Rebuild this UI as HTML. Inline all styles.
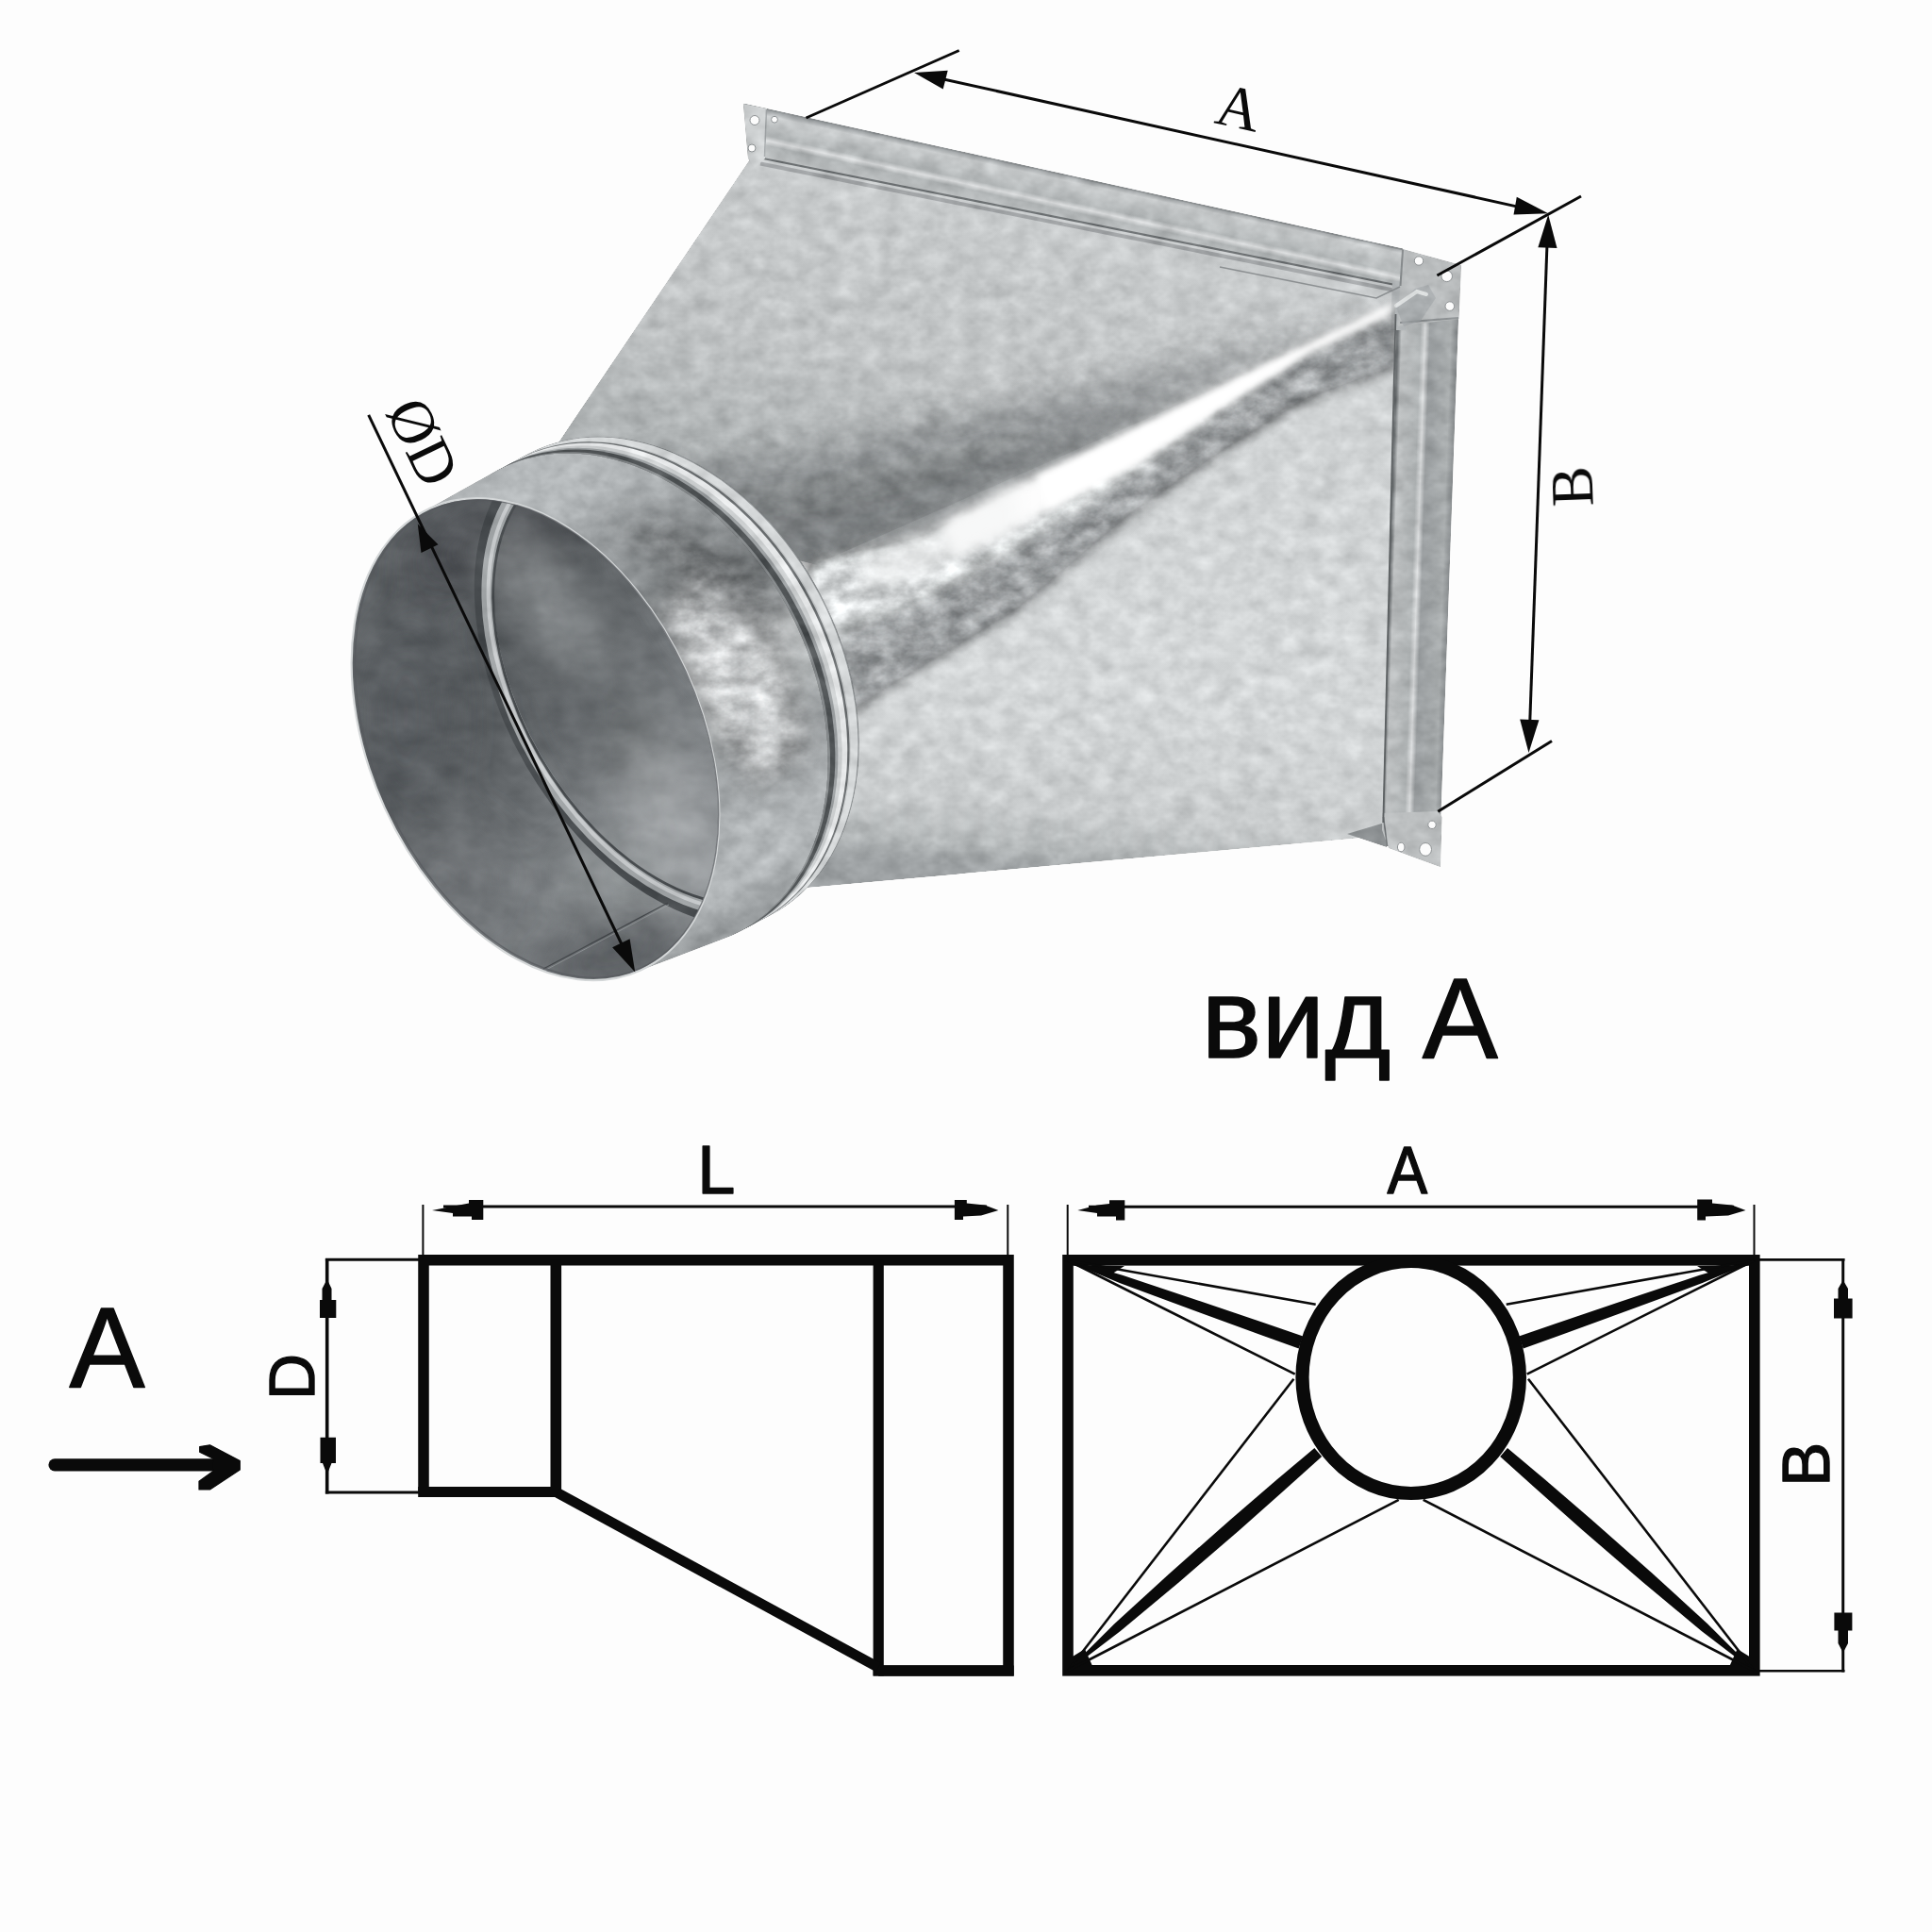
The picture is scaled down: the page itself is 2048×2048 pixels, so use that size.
<!DOCTYPE html>
<html lang="ru">
<head>
<meta charset="utf-8">
<title>Переход с прямоугольного на круглое сечение</title>
<style>
  html, body { margin: 0; padding: 0; background: #fdfdfd; }
  body { width: 2048px; height: 2048px; overflow: hidden; font-family: "Liberation Sans", sans-serif; }
  svg { display: block; position: absolute; left: 0; top: 0; }
  .sans { font-family: "Liberation Sans", sans-serif; fill: #0a0a0a; stroke: #0a0a0a; stroke-width: 1.4px; stroke-linejoin: round; }
  .serif { font-family: "Liberation Serif", serif; fill: #0a0a0a; }
</style>
</head>
<body>
<svg width="2048" height="2048" viewBox="0 0 2048 2048">
  <rect x="0" y="0" width="2048" height="2048" fill="#fdfdfd"/>

  <defs>
    <!-- galvanized spangle texture -->
    <filter id="galv" x="330" y="80" width="1260" height="1000" filterUnits="userSpaceOnUse" color-interpolation-filters="sRGB">
      <feTurbulence type="fractalNoise" baseFrequency="0.045 0.06" numOctaves="3" seed="7" result="n"/>
      <feColorMatrix in="n" type="matrix" values="0.6 0.6 0 0 -0.1  0.6 0.6 0 0 -0.1  0.6 0.6 0 0 -0.1  0 0 0 0 1" result="g"/>
      <feComposite in="SourceGraphic" in2="g" operator="arithmetic" k1="0" k2="1" k3="0.22" k4="-0.11" result="c"/>
      <feComposite in="c" in2="SourceGraphic" operator="in"/>
    </filter>
    <filter id="galvSoft" x="330" y="80" width="1260" height="1000" filterUnits="userSpaceOnUse" color-interpolation-filters="sRGB">
      <feTurbulence type="fractalNoise" baseFrequency="0.03 0.045" numOctaves="3" seed="23" result="n"/>
      <feColorMatrix in="n" type="matrix" values="0.6 0.6 0 0 -0.1  0.6 0.6 0 0 -0.1  0.6 0.6 0 0 -0.1  0 0 0 0 1" result="g"/>
      <feComposite in="SourceGraphic" in2="g" operator="arithmetic" k1="0" k2="1" k3="0.13" k4="-0.065" result="c"/>
      <feComposite in="c" in2="SourceGraphic" operator="in"/>
    </filter>
    <filter id="galvStrong" x="330" y="80" width="1260" height="1000" filterUnits="userSpaceOnUse" color-interpolation-filters="sRGB">
      <feTurbulence type="fractalNoise" baseFrequency="0.04 0.055" numOctaves="4" seed="11" result="n"/>
      <feColorMatrix in="n" type="matrix" values="0.6 0.6 0 0 -0.1  0.6 0.6 0 0 -0.1  0.6 0.6 0 0 -0.1  0 0 0 0 1" result="g"/>
      <feComposite in="SourceGraphic" in2="g" operator="arithmetic" k1="0" k2="1" k3="0.6" k4="-0.30" result="c"/>
      <feComposite in="c" in2="SourceGraphic" operator="in"/>
    </filter>
    <filter id="b3" x="-20%" y="-20%" width="140%" height="140%"><feGaussianBlur stdDeviation="3"/></filter>
    <filter id="b6" x="-20%" y="-20%" width="140%" height="140%"><feGaussianBlur stdDeviation="6"/></filter>
    <filter id="b10" x="-20%" y="-20%" width="140%" height="140%"><feGaussianBlur stdDeviation="10"/></filter>
    <filter id="b16" x="-30%" y="-30%" width="160%" height="160%"><feGaussianBlur stdDeviation="16"/></filter>
    <filter id="b26" x="-30%" y="-30%" width="160%" height="160%"><feGaussianBlur stdDeviation="26"/></filter>

    <linearGradient id="gTopFace" gradientUnits="userSpaceOnUse" x1="1000" y1="200" x2="900" y2="620">
      <stop offset="0" stop-color="#c9cccd"/>
      <stop offset="0.45" stop-color="#c1c4c5"/>
      <stop offset="0.75" stop-color="#afb3b4"/>
      <stop offset="1" stop-color="#9b9fa1"/>
    </linearGradient>
    <linearGradient id="gSideFace" gradientUnits="userSpaceOnUse" x1="1200" y1="450" x2="1160" y2="930">
      <stop offset="0" stop-color="#d0d3d4"/>
      <stop offset="0.6" stop-color="#d4d7d8"/>
      <stop offset="0.86" stop-color="#c9cccd"/>
      <stop offset="0.95" stop-color="#b3b7b8"/>
      <stop offset="1" stop-color="#9da1a3"/>
    </linearGradient>
    <linearGradient id="gFlangeTop" gradientUnits="userSpaceOnUse" x1="1100" y1="180" x2="1087" y2="240">
      <stop offset="0" stop-color="#9da1a3"/>
      <stop offset="0.08" stop-color="#c7cacb"/>
      <stop offset="0.42" stop-color="#b4b8b9"/>
      <stop offset="0.5" stop-color="#d9dbdc"/>
      <stop offset="0.58" stop-color="#aeb2b3"/>
      <stop offset="0.9" stop-color="#bec1c2"/>
      <stop offset="1" stop-color="#85898b"/>
    </linearGradient>
    <linearGradient id="gFlangeRight" gradientUnits="userSpaceOnUse" x1="1474" y1="600" x2="1536" y2="602">
      <stop offset="0" stop-color="#6f7375"/>
      <stop offset="0.06" stop-color="#b9bcbd"/>
      <stop offset="0.38" stop-color="#aeb2b3"/>
      <stop offset="0.46" stop-color="#d4d6d7"/>
      <stop offset="0.54" stop-color="#9a9ea0"/>
      <stop offset="0.9" stop-color="#a9adae"/>
      <stop offset="1" stop-color="#8c9092"/>
    </linearGradient>


    <linearGradient id="gPipeOuter" gradientUnits="userSpaceOnUse" x1="499" y1="518" x2="753" y2="994">
      <stop offset="0" stop-color="#b2b6b8"/>
      <stop offset="0.08" stop-color="#b7bbbd"/>
      <stop offset="0.2" stop-color="#a1a5a7"/>
      <stop offset="0.3" stop-color="#8e9294"/>
      <stop offset="0.4" stop-color="#808486"/>
      <stop offset="0.46" stop-color="#9da1a3"/>
      <stop offset="0.52" stop-color="#c8cbcc"/>
      <stop offset="0.62" stop-color="#b6babb"/>
      <stop offset="0.72" stop-color="#a0a4a6"/>
      <stop offset="0.84" stop-color="#b1b5b7"/>
      <stop offset="0.93" stop-color="#b5b9bb"/>
      <stop offset="1" stop-color="#989c9e"/>
    </linearGradient>
    <linearGradient id="gPipeInner" gradientUnits="userSpaceOnUse" x1="400" y1="880" x2="740" y2="700">
      <stop offset="0" stop-color="#5e6265"/>
      <stop offset="0.25" stop-color="#54585b"/>
      <stop offset="0.45" stop-color="#5f6366"/>
      <stop offset="0.7" stop-color="#75797c"/>
      <stop offset="1" stop-color="#868a8d"/>
    </linearGradient>
    <linearGradient id="gBead" gradientUnits="userSpaceOnUse" x1="559" y1="472" x2="813" y2="980">
      <stop offset="0" stop-color="#c9cccd"/>
      <stop offset="0.3" stop-color="#b4b8ba"/>
      <stop offset="0.45" stop-color="#8e9294"/>
      <stop offset="0.55" stop-color="#e2e4e5"/>
      <stop offset="0.75" stop-color="#c4c7c8"/>
      <stop offset="1" stop-color="#b4b8b9"/>
    </linearGradient>
    <clipPath id="clipRim">
      <ellipse cx="567.5" cy="783.6" rx="269.1" ry="175.5" transform="rotate(65.5 567.5 783.6)" />
    </clipPath>
    <clipPath id="clipPipeHull">
      <path d="M769.2,994.3 L672.7,1031.1 L666.2,1033.4 L659.5,1035.3 L652.7,1036.8 L645.8,1038.0 L638.7,1038.7 L631.6,1039.0 L624.3,1039.0 L616.9,1038.5 L609.5,1037.7 L602.0,1036.4 L594.4,1034.8 L586.8,1032.8 L579.2,1030.4 L571.6,1027.6 L563.9,1024.5 L556.3,1021.0 L548.6,1017.1 L541.0,1012.8 L533.5,1008.2 L526.0,1003.3 L518.5,998.0 L511.2,992.4 L503.9,986.4 L496.7,980.2 L489.6,973.6 L482.7,966.7 L475.9,959.6 L469.2,952.2 L462.7,944.5 L456.3,936.6 L450.1,928.5 L444.1,920.1 L438.3,911.5 L432.6,902.8 L427.2,893.8 L422.0,884.7 L417.0,875.4 L412.3,865.9 L407.8,856.4 L403.5,846.7 L399.5,836.9 L395.8,827.1 L392.3,817.2 L389.1,807.2 L386.2,797.2 L383.5,787.2 L381.1,777.1 L379.0,767.1 L377.3,757.1 L375.8,747.2 L374.5,737.3 L373.6,727.5 L373.0,717.7 L372.7,708.1 L372.7,698.5 L373.0,689.2 L373.6,679.9 L374.5,670.8 L375.7,661.9 L377.2,653.2 L378.9,644.7 L381.0,636.4 L383.4,628.3 L386.0,620.4 L388.9,612.8 L392.1,605.5 L395.6,598.5 L399.3,591.7 L403.3,585.2 L407.5,579.1 L412.0,573.2 L416.7,567.7 L421.7,562.5 L426.9,557.6 L432.3,553.1 L437.9,549.0 L443.7,545.2 L449.7,541.8 L520.9,502.0 L527.9,498.1 L535.2,494.6 L542.6,491.5 L550.1,488.7 L557.9,486.3 L565.8,484.4 L573.8,482.8 L581.9,481.6 L590.2,480.8 L598.6,480.5 L607.0,480.5 L615.6,480.9 L624.2,481.8 L632.8,483.0 L641.5,484.7 L650.2,486.7 L658.9,489.2 L667.6,492.0 L676.3,495.2 L685.0,498.8 L693.6,502.8 L702.1,507.2 L710.6,511.9 L719.0,517.0 L727.3,522.4 L735.5,528.1 L743.6,534.2 L751.5,540.6 L759.3,547.4 L766.9,554.4 L774.4,561.7 L781.6,569.3 L788.7,577.2 L795.6,585.3 L802.2,593.6 L808.7,602.2 L814.9,611.0 L820.8,620.0 L826.5,629.2 L832.0,638.6 L837.1,648.2 L842.0,657.8 L846.6,667.7 L850.9,677.6 L854.9,687.6 L858.6,697.7 L862.0,707.9 L865.1,718.2 L867.8,728.4 L870.2,738.7 L872.3,749.0 L874.1,759.3 L875.5,769.6 L876.5,779.8 L877.3,790.0 L877.7,800.1 L877.7,810.1 L877.4,820.0 L876.8,829.8 L875.8,839.5 L874.5,849.0 L872.9,858.3 L870.9,867.5 L868.6,876.5 L865.9,885.2 L863.0,893.8 L859.7,902.1 L856.1,910.2 L852.2,918.0 L848.0,925.5 L843.5,932.8 L838.7,939.7 L833.6,946.4 L828.3,952.8 L822.6,958.8 L816.8,964.5 L810.6,969.8 L804.3,974.8 L797.7,979.5 L790.9,983.8 L783.9,987.7 L776.6,991.2 Z"/>
    </clipPath>
    <clipPath id="clipBody">
      <path d="M798,160 L1484,296 L1479,330 L1466,886 L856,941 L700,980 L560,520 L594,466 L795,169 Z"/>
    </clipPath>
  </defs>

  <!-- ===================== PHOTO: duct adapter ===================== -->
  <g id="photo">
    <g filter="url(#galv)">
      <!-- body -->
      <g clip-path="url(#clipBody)">
        <path d="M795,160 L1484,296 L1479,330 L870,600 L560,520 L594,466 Z" fill="url(#gTopFace)"/>
        <path d="M1479,328 L1466,886 L856,941 L700,980 L870,596 Z" fill="url(#gSideFace)"/>
      </g>
      <!-- top flange strip -->
      <path d="M788,110 L1487,264 L1484,303 L809,168 L793,167 Z" fill="url(#gFlangeTop)"/>
      <path d="M809,168 L1484,303" stroke="#6a6e70" stroke-width="2.2" fill="none"/>
      <path d="M806,173.5 L1482,308.5" stroke="#8e9294" stroke-width="4" fill="none" opacity="0.7"/>
      <path d="M788.6,110.6 L1487,264.4" stroke="#8b8f91" stroke-width="1.6" fill="none"/>
      <!-- top-left bracket -->
      <path d="M788,110 L813,115 L811,168 L800,178 L793,168 Z" fill="#cccfd0"/>
      <path d="M812.5,116 L810.5,166" stroke="#9da1a3" stroke-width="1.5" fill="none"/>
      <!-- right flange strip -->
      <path d="M1480,340 L1546,338 L1527,876 L1466,866 Z" fill="url(#gFlangeRight)"/>
      <!-- corner filler -->
      <path d="M1476,298 L1492,300 L1490,350 L1474,350 Z" fill="#b3b7b9"/>
      <!-- top-right corner bracket -->
      <path d="M1487,264 L1549,281 L1546.5,338 L1482,346 L1484,303 Z" fill="#b9bcbd"/>
      <path d="M1487,265 L1484.5,303" stroke="#85898b" stroke-width="2" fill="none"/>
      <path d="M1484,342 L1546,337" stroke="#8b8f91" stroke-width="2" fill="none"/>
      <path d="M1480,326 L1500,306 L1514,302 L1522,316 L1506,340 L1488,346 Z" fill="#a3a7a9" opacity="0.7"/>
      <path d="M1480,324 L1502,309 L1512,312" stroke="#e6e8e9" stroke-width="4" fill="none" stroke-linecap="round" opacity="0.8"/>
      <!-- bottom-right bracket -->
      <path d="M1428,884 L1470,898 L1468,872 Z" fill="#8a8e90"/>
      <path d="M1465,862 L1524,860 L1528.5,866 L1527,919 L1472,899 L1465,880 Z" fill="#bcbfc0"/>
      <path d="M1466.5,866 L1470.5,897" stroke="#6f7375" stroke-width="1.6" fill="none"/>
    </g>

    <!-- conical transition: shadow / highlight / mottled band -->
    <g clip-path="url(#clipBody)">
      <g filter="url(#galv)">
        <g filter="url(#b16)">
          <path d="M1478,324 L1386,345 L1200,392 L1076,420 L843,472 L600,500 L600,640 L870,600 L975,566 L1200,455 L1386,364 Z" fill="#8d9193" opacity="0.72"/>
        </g>
        <g filter="url(#b10)">
          <path d="M1260,420 L1076,470 L860,520 L700,536 L860,600 L975,566 L1200,455 Z" fill="#7d8183" opacity="0.55"/>
        </g>
      </g>
      <g filter="url(#galvStrong)">
        <g filter="url(#b6)">
          <path d="M1481,330 L1481,392 L1386,426 L1293,484 L1200,548 L1079,650 L949,728 L840,800 L840,690 L936,650 L1027,610 L1200,500 L1293,436 L1386,374 Z" fill="#a6aaac" opacity="0.9"/>
        </g>
        <g filter="url(#b6)">
          <path d="M1481,322 L1386,364 L1200,455 L975,566 L859,592 L840,640 L840,712 L900,672 L975,642 L1079,584 L1200,506 L1293,438 L1386,377 L1470,334 Z" fill="#d2d5d6"/>
        </g>
      </g>
      <g filter="url(#b6)">
        <path d="M1479,322 L1386,366 L1200,458 L1079,514 L1000,556 L1010,590 L1079,558 L1200,492 L1293,430 L1386,372 L1468,334 Z" fill="#fdfdfd"/>
      </g>
      <g filter="url(#b3)">
        <path d="M1479,321 L1386,365 L1200,457 L1100,505 L1110,540 L1200,494 L1293,432 L1386,374 L1470,333 Z" fill="#ffffff"/>
      </g>
      <g filter="url(#b10)">
        <path d="M1079,516 L975,570 L915,592 L915,624 L975,612 L1079,556 Z" fill="#f4f5f5" opacity="0.7"/>
      </g>
    </g>
    <!-- edge lines -->
    <path d="M1479.5,333 L1466.3,872" stroke="#5d6163" stroke-width="1.8" fill="none"/>
    <path d="M1293,283 L1459,316 L1484,304" stroke="#7d8183" stroke-width="1.6" fill="none" opacity="0.8"/>

    <!-- round collar and pipe -->
    <g id="pipe">
      <!-- collar / bead rings (series of axially shifted ellipses) -->
      <g filter="url(#galv)">
        <ellipse cx="688.9" cy="725.3" rx="276.2" ry="204.5" transform="rotate(62.4 688.9 725.3)" fill="#8e9294"/>
        <ellipse cx="687.6" cy="726.0" rx="276.2" ry="204.5" transform="rotate(62.4 687.6 726.0)" fill="#d6d9da"/>
        <ellipse cx="680.0" cy="730.1" rx="276.2" ry="204.5" transform="rotate(62.4 680.0 730.1)" fill="#c6c9ca"/>
        <ellipse cx="678.7" cy="730.8" rx="276.2" ry="204.5" transform="rotate(62.4 678.7 730.8)" fill="#6a6e70"/>
        <ellipse cx="676.4" cy="732.0" rx="276.2" ry="204.5" transform="rotate(62.4 676.4 732.0)" fill="#e6e8e9"/>
        <ellipse cx="670.8" cy="735.0" rx="276.2" ry="204.5" transform="rotate(62.4 670.8 735.0)" fill="#cbcecf"/>
        <ellipse cx="666.5" cy="737.3" rx="276.2" ry="204.5" transform="rotate(62.4 666.5 737.3)" fill="#9a9ea0"/>
        <ellipse cx="663.5" cy="738.9" rx="276.2" ry="204.5" transform="rotate(62.4 663.5 738.9)" fill="#4f5355"/>
        <ellipse cx="658.2" cy="741.7" rx="276.2" ry="204.5" transform="rotate(62.4 658.2 741.7)" fill="#85898b"/>
      </g>
      <!-- pipe outer surface -->
      <g filter="url(#galv)">
        <path d="M769.2,994.3 L672.7,1031.1 L666.2,1033.4 L659.5,1035.3 L652.7,1036.8 L645.8,1038.0 L638.7,1038.7 L631.6,1039.0 L624.3,1039.0 L616.9,1038.5 L609.5,1037.7 L602.0,1036.4 L594.4,1034.8 L586.8,1032.8 L579.2,1030.4 L571.6,1027.6 L563.9,1024.5 L556.3,1021.0 L548.6,1017.1 L541.0,1012.8 L533.5,1008.2 L526.0,1003.3 L518.5,998.0 L511.2,992.4 L503.9,986.4 L496.7,980.2 L489.6,973.6 L482.7,966.7 L475.9,959.6 L469.2,952.2 L462.7,944.5 L456.3,936.6 L450.1,928.5 L444.1,920.1 L438.3,911.5 L432.6,902.8 L427.2,893.8 L422.0,884.7 L417.0,875.4 L412.3,865.9 L407.8,856.4 L403.5,846.7 L399.5,836.9 L395.8,827.1 L392.3,817.2 L389.1,807.2 L386.2,797.2 L383.5,787.2 L381.1,777.1 L379.0,767.1 L377.3,757.1 L375.8,747.2 L374.5,737.3 L373.6,727.5 L373.0,717.7 L372.7,708.1 L372.7,698.5 L373.0,689.2 L373.6,679.9 L374.5,670.8 L375.7,661.9 L377.2,653.2 L378.9,644.7 L381.0,636.4 L383.4,628.3 L386.0,620.4 L388.9,612.8 L392.1,605.5 L395.6,598.5 L399.3,591.7 L403.3,585.2 L407.5,579.1 L412.0,573.2 L416.7,567.7 L421.7,562.5 L426.9,557.6 L432.3,553.1 L437.9,549.0 L443.7,545.2 L449.7,541.8 L520.9,502.0 L527.9,498.1 L535.2,494.6 L542.6,491.5 L550.1,488.7 L557.9,486.3 L565.8,484.4 L573.8,482.8 L581.9,481.6 L590.2,480.8 L598.6,480.5 L607.0,480.5 L615.6,480.9 L624.2,481.8 L632.8,483.0 L641.5,484.7 L650.2,486.7 L658.9,489.2 L667.6,492.0 L676.3,495.2 L685.0,498.8 L693.6,502.8 L702.1,507.2 L710.6,511.9 L719.0,517.0 L727.3,522.4 L735.5,528.1 L743.6,534.2 L751.5,540.6 L759.3,547.4 L766.9,554.4 L774.4,561.7 L781.6,569.3 L788.7,577.2 L795.6,585.3 L802.2,593.6 L808.7,602.2 L814.9,611.0 L820.8,620.0 L826.5,629.2 L832.0,638.6 L837.1,648.2 L842.0,657.8 L846.6,667.7 L850.9,677.6 L854.9,687.6 L858.6,697.7 L862.0,707.9 L865.1,718.2 L867.8,728.4 L870.2,738.7 L872.3,749.0 L874.1,759.3 L875.5,769.6 L876.5,779.8 L877.3,790.0 L877.7,800.1 L877.7,810.1 L877.4,820.0 L876.8,829.8 L875.8,839.5 L874.5,849.0 L872.9,858.3 L870.9,867.5 L868.6,876.5 L865.9,885.2 L863.0,893.8 L859.7,902.1 L856.1,910.2 L852.2,918.0 L848.0,925.5 L843.5,932.8 L838.7,939.7 L833.6,946.4 L828.3,952.8 L822.6,958.8 L816.8,964.5 L810.6,969.8 L804.3,974.8 L797.7,979.5 L790.9,983.8 L783.9,987.7 L776.6,991.2 Z" fill="url(#gPipeOuter)"/>
      </g>
      <!-- mottled highlight on pipe -->
      <g clip-path="url(#clipPipeHull)">
        <g filter="url(#galvStrong)">
          <g filter="url(#b16)">
            <path d="M690,650 L735,606 L838,690 L862,800 L800,840 L740,760 Z" fill="#e2e4e5" opacity="0.9"/>
            <path d="M640,560 L700,545 L820,605 L850,675 L790,655 L725,610 Z" fill="#808486" opacity="0.6"/>
          </g>
        </g>
      </g>
      <!-- pipe interior -->
      <g clip-path="url(#clipRim)"><g filter="url(#galvSoft)">
        <ellipse cx="567.5" cy="783.6" rx="269.1" ry="175.5" transform="rotate(65.5 567.5 783.6)" fill="url(#gPipeInner)"/>
        <g filter="url(#b26)">
          <ellipse cx="520" cy="575" rx="100" ry="45" transform="rotate(-20 520 575)" fill="#45494c" opacity="0.9"/>
          <ellipse cx="430" cy="760" rx="45" ry="110" fill="#5a5e61" opacity="0.8"/>
          <ellipse cx="705" cy="850" rx="40" ry="120" transform="rotate(-25 705 850)" fill="#a4a8aa" opacity="0.95"/>
          <ellipse cx="590" cy="650" rx="28" ry="110" transform="rotate(-38 590 650)" fill="#9a9ea0" opacity="0.85"/>
          <ellipse cx="650" cy="760" rx="40" ry="70" transform="rotate(-30 650 760)" fill="#5c6063" opacity="0.75"/>
          <ellipse cx="650" cy="1015" rx="90" ry="38" transform="rotate(-15 650 1015)" fill="#55595c" opacity="0.95"/>
          <ellipse cx="650" cy="925" rx="55" ry="35" fill="#94989a" opacity="0.7"/>
          <ellipse cx="470" cy="930" rx="60" ry="60" fill="#74787b" opacity="0.7"/>
        </g>
        <!-- inner bead ring seen from inside -->
        <ellipse cx="716.4" cy="719.4" rx="279.3" ry="178.2" transform="rotate(60.0 716.4 719.4)" fill="none" stroke="#484c4f" stroke-width="11"/>
        <ellipse cx="716.4" cy="719.4" rx="267.3" ry="171.0" transform="rotate(60.0 716.4 719.4)" fill="none" stroke="#a0a4a6" stroke-width="13"/>
        <ellipse cx="716.4" cy="719.4" rx="266.3" ry="170.4" transform="rotate(60.0 716.4 719.4)" fill="none" stroke="#c6c9cb" stroke-width="4"/>
        <ellipse cx="716.4" cy="719.4" rx="259.3" ry="166.2" transform="rotate(60.0 716.4 719.4)" fill="none" stroke="#484c4f" stroke-width="2.8"/>
        <!-- weld seam -->
        <path d="M576,1027 L708,957" stroke="#3c4043" stroke-width="1.3" fill="none" opacity="0.85"/>
        <path d="M577,1029 L709,959" stroke="#9da1a3" stroke-width="1" fill="none" opacity="0.6"/>
      </g></g>
      <!-- rim edge -->
      <ellipse cx="567.5" cy="783.6" rx="269.1" ry="175.5" transform="rotate(65.5 567.5 783.6)" fill="none" stroke="#d4d7d8" stroke-width="2.2"/>
      <ellipse cx="569.0" cy="783.1" rx="266.9" ry="173.3" transform="rotate(65.5 569.0 783.1)" fill="none" stroke="#56595c" stroke-width="1.4" opacity="0.7"/>
    </g>

    <!-- mounting holes -->
    <g fill="#fcfcfc" stroke="#8d9193" stroke-width="1">
      <circle cx="800" cy="127.5" r="5"/>
      <circle cx="821" cy="126.7" r="3.4"/>
      <circle cx="797" cy="157" r="4"/>
      <circle cx="1504" cy="276.5" r="4.7"/>
      <circle cx="1533.7" cy="292.8" r="5.8"/>
      <circle cx="1536.8" cy="324.6" r="4.8"/>
      <circle cx="1518" cy="874.3" r="4.2"/>
      <ellipse cx="1485.2" cy="898" rx="3.8" ry="4.8"/>
      <ellipse cx="1511.1" cy="900.4" rx="6.4" ry="6.9"/>
    </g>
  </g>

  <!-- ===================== dimensions on photo ===================== -->
  <g id="photo-dims" stroke="#0a0a0a" fill="#0a0a0a" stroke-width="3" stroke-linecap="butt">
    <!-- A -->
    <path d="M854.5,125 L1016.7,53.5" fill="none"/>
    <path d="M1523.4,292 L1676,208" fill="none"/>
    <path d="M990,81.7 L1620,221.6" fill="none"/>
    <path d="M969,77 L1004.7,74.8 L999.7,94.4 Z" stroke="none"/>
    <path d="M1641.2,226.3 L1607.8,208.7 L1604.5,227.6 Z" stroke="none"/>
    <!-- B -->
    <path d="M1524.3,860.2 L1645,785.5" fill="none"/>
    <path d="M1640.3,250 L1621.4,775" fill="none"/>
    <path d="M1641.2,227.5 L1650.5,263 L1630.4,262.3 Z" stroke="none"/>
    <path d="M1620.5,798 L1611.2,762.5 L1631.4,763.2 Z" stroke="none"/>
    <!-- diameter D -->
    <path d="M390.7,439.8 L665,1013.5" fill="none"/>
    <path d="M442.8,555.5 L446.5,586.0 L464.5,577.2 Z" stroke="none"/>
    <path d="M673.2,1030.4 L649.1,1004.3 L667.6,995.3 Z" stroke="none"/>
  </g>
  <text class="serif" x="0" y="0" font-size="64" text-anchor="middle" transform="translate(1308.5,135) rotate(12.5)">A</text>
  <text class="serif" x="0" y="0" font-size="64" text-anchor="middle" transform="translate(1688,515) rotate(-92)">B</text>
  <text class="serif" x="0" y="0" font-size="65" text-anchor="middle" transform="translate(429,478) rotate(64.2)">ØD</text>

  <!-- ===================== LOWER LINE DRAWINGS ===================== -->
  <g id="drawings" stroke="#0a0a0a" fill="none" stroke-linecap="butt" stroke-linejoin="miter">

    <!-- ============ side view ============ -->
    <g id="side-view">
      <!-- main outline -->
      <path d="M449,1581.4 L449,1335.7 L1069,1335.7 L1069,1771 L931.2,1771" stroke-width="11.5"/>
      <path d="M443.2,1581.4 L595,1581.4" stroke-width="11"/>
      <path d="M589.3,1335.7 L589.3,1586.8" stroke-width="11.6"/>
      <path d="M931.2,1335.7 L931.2,1776.5" stroke-width="11.2"/>
      <path d="M925.6,1771 L1074.7,1771" stroke-width="11"/>
      <path d="M591,1582.5 L931,1767.5" stroke-width="10.6"/>

      <!-- L dimension -->
      <path d="M448.4,1277 L448.4,1331" stroke-width="2"/>
      <path d="M1068.3,1277 L1068.3,1331" stroke-width="2"/>
      <path d="M470,1279 L1046,1279" stroke-width="3"/>
      <path d="M458,1283 L497,1275.5 L497,1272 L512.3,1272 L512.3,1293 L500,1293 L500,1289.5 L480,1289.5 L480,1286 Z" fill="#0a0a0a" stroke="none"/>
      <path d="M1058.4,1283 L1044,1277.5 L1024.8,1275.5 L1024.8,1272 L1011.9,1272 L1011.9,1293 L1021,1293 L1021,1289.5 L1040,1288.5 Z" fill="#0a0a0a" stroke="none"/>

      <!-- D dimension -->
      <path d="M344.9,1335.3 L444,1335.3" stroke-width="3"/>
      <path d="M344.9,1582 L444,1582" stroke-width="3"/>
      <path d="M346.7,1334 L346.7,1583.5" stroke-width="3.6"/>
      <path d="M346.7,1356 L351.5,1366 L351.5,1378 L356.3,1378 L356.3,1397 L339,1397 L339,1378 L341.5,1378 L341.5,1366 Z" fill="#0a0a0a" stroke="none"/>
      <path d="M346.7,1563 L351.5,1551 L356,1551 L356,1523.7 L339.5,1523.7 L339.5,1551 L342,1551 Z" fill="#0a0a0a" stroke="none"/>
    </g>

    <!-- ============ view A (front) ============ -->
    <g id="front-view">
      <rect x="1132" y="1335.8" width="727.8" height="435" stroke-width="11.6"/>
      <ellipse cx="1495.7" cy="1460" rx="115.2" ry="123" stroke-width="14.2"/>

      <!-- thick ribs (tapered) -->
      <path d="M1138.7,1766.5 L1188.0,1728.7 L1249.5,1677.5 L1313.9,1622.0 L1362.5,1578.8 L1401.2,1543.9 L1393.4,1534.9 L1353.5,1568.6 L1304.2,1610.9 L1240.5,1667.2 L1181.4,1721.2 L1137.4,1765.0 Z" fill="#0a0a0a" stroke="none"/>
      <path d="M1854.0,1765.0 L1810.0,1721.2 L1750.9,1667.2 L1687.2,1610.9 L1637.9,1568.6 L1598.0,1534.9 L1590.2,1543.9 L1628.9,1578.8 L1677.5,1622.0 L1741.9,1677.5 L1803.4,1728.7 L1852.7,1766.5 Z" fill="#0a0a0a" stroke="none"/>
      <path d="M1138.8,1340.0 L1186.8,1360.1 L1271.3,1391.3 L1337.0,1415.2 L1376.7,1429.6 L1381.3,1416.4 L1341.4,1402.8 L1275.1,1380.3 L1189.8,1351.8 L1139.7,1337.3 Z" fill="#0a0a0a" stroke="none"/>
      <path d="M1851.7,1337.3 L1801.6,1351.8 L1716.3,1380.3 L1650.0,1402.8 L1610.1,1416.4 L1614.7,1429.6 L1654.4,1415.2 L1720.1,1391.3 L1804.6,1360.1 L1852.6,1340.0 Z" fill="#0a0a0a" stroke="none"/>
      <!-- corner wedges -->
      <path d="M1137,1341 L1192,1342 L1176,1352 Z" fill="#0a0a0a" stroke="none"/>
      <path d="M1854.5,1341 L1799,1342 L1815,1352 Z" fill="#0a0a0a" stroke="none"/>
      <path d="M1137,1766 L1137,1756 L1150,1748 L1158,1766 Z" fill="#0a0a0a" stroke="none"/>
      <path d="M1854.5,1766 L1854.5,1756 L1841.5,1748 L1833.5,1766 Z" fill="#0a0a0a" stroke="none"/>

      <!-- thin construction lines -->
      <g stroke-width="2.6">
        <path d="M1131.7,1336 L1394.7,1382.8"/>
        <path d="M1131.7,1336 L1372.7,1456.6"/>
        <path d="M1132,1771 L1371.4,1461.7"/>
        <path d="M1132,1771 L1482.7,1589.8"/>
        <path d="M1859.7,1336 L1596.7,1382.8"/>
        <path d="M1859.7,1336 L1618.7,1456.6"/>
        <path d="M1859.4,1771 L1620,1461.7"/>
        <path d="M1859.4,1771 L1508.7,1589.8"/>
      </g>

      <!-- A dimension -->
      <path d="M1131.7,1277 L1131.7,1331" stroke-width="2"/>
      <path d="M1859.5,1277 L1859.5,1331" stroke-width="2"/>
      <path d="M1154,1279.3 L1838,1279.3" stroke-width="3"/>
      <path d="M1142.3,1283 L1163,1277.5 L1176,1276 L1176,1272.3 L1192.3,1272.3 L1192.3,1293.5 L1183,1293.5 L1183,1289.5 L1163,1289.5 L1163,1286 Z" fill="#0a0a0a" stroke="none"/>
      <path d="M1850.5,1283 L1836,1277.5 L1815,1275.5 L1815,1271.5 L1799.2,1271.5 L1799.2,1293.4 L1808,1293.4 L1808,1289.5 L1832,1288.5 Z" fill="#0a0a0a" stroke="none"/>

      <!-- B dimension -->
      <path d="M1865,1335.4 L1955.5,1335.4" stroke-width="2.6"/>
      <path d="M1865,1771.2 L1955.5,1771.2" stroke-width="2.6"/>
      <path d="M1953.7,1334 L1953.7,1772.5" stroke-width="3"/>
      <path d="M1953.7,1357 L1959,1366 L1959,1376.5 L1963.6,1376.5 L1963.6,1397.5 L1944,1397.5 L1944,1376.5 L1948.5,1376.5 L1948.5,1366 Z" fill="#0a0a0a" stroke="none"/>
      <path d="M1953.7,1752 L1959,1742 L1959,1728.5 L1963.4,1728.5 L1963.4,1709.6 L1944.4,1709.6 L1944.4,1728.5 L1948.5,1728.5 L1948.5,1742 Z" fill="#0a0a0a" stroke="none"/>
    </g>

    <!-- big arrow "A" -->
    <path d="M58,1552.8 L232,1552.8" stroke-width="13.2" stroke-linecap="round"/>
    <path d="M211.7,1533.6 L222.5,1531.8 L254.3,1548.6 L254.3,1558.1 L222.5,1578.9 L211,1578.9 L211,1570.2 L226,1559.4 L226,1546.2 L211.7,1539.2 Z" fill="#0a0a0a" stroke="#0a0a0a" stroke-width="1.2" stroke-linejoin="round"/>
  </g>

  <!-- labels for lower drawings -->
  <text class="sans" x="739.2" y="1265.4" font-size="72">L</text>
  <text class="sans" x="0" y="0" font-size="71" transform="translate(1470.5,1265) scale(0.9,1)">A</text>
  <text class="sans" x="0" y="0" font-size="68" transform="translate(333,1484) rotate(-90)">D</text>
  <text class="sans" x="0" y="0" font-size="71" transform="translate(1938.5,1576) rotate(-90)">B</text>
  <text class="sans" x="73.5" y="1470" font-size="120">A</text>
  <text class="sans" x="1273.5" y="1121.4" font-size="120">вид А</text>
</svg>
</body>
</html>
